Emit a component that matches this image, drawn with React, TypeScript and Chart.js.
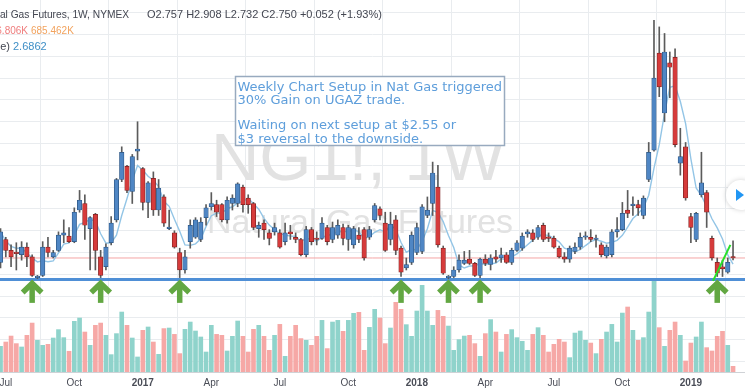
import React, { useEffect, useRef } from 'react';
import { Chart, registerables } from 'chart.js';

Chart.register(...registerables);

// ---- Weekly NG1! candles (index 0 = first visible week, mid 2016) ----
const opens = [
  2.71, 2.92, 2.82, 2.80, 2.78, 2.85, 2.76, 2.57, 2.59, 2.85,
  2.76, 2.82, 2.96, 2.95, 2.90, 3.19, 3.25, 3.02, 3.15, 2.76,
  2.67, 2.89, 3.10, 3.47, 3.59, 3.36, 3.73, 3.57, 3.26, 3.48,
  3.19, 3.31, 3.02, 2.98, 2.80, 2.64, 2.90, 2.94, 2.92, 3.12,
  3.22, 3.24, 3.24, 3.10, 3.25, 3.25, 3.40, 3.30, 3.25, 3.02,
  3.07, 2.98, 2.99, 2.98, 2.90, 2.99, 2.94, 2.92, 2.78, 3.01,
  2.93, 2.93, 3.03, 2.92, 2.96, 3.03, 2.92, 2.87, 2.96, 3.01,
  2.94, 3.10, 3.20, 3.07, 2.92, 3.10, 2.84, 2.66, 2.71, 2.80,
  2.81, 3.14, 3.25, 3.40, 2.84, 2.57, 2.58, 2.64, 2.70, 2.74,
  2.70, 2.59, 2.74, 2.69, 2.76, 2.75, 2.78, 2.71, 2.82, 2.84,
  2.97, 2.98, 2.94, 3.05, 2.94, 2.93, 2.84, 2.76, 2.74, 2.81,
  2.85, 2.94, 2.94, 2.92, 2.87, 2.77, 2.78, 2.99, 3.01, 3.19,
  3.23, 3.24, 3.14, 3.47, 3.74, 4.63, 4.08, 4.54, 4.59, 3.62,
  3.77, 3.13, 2.92, 3.33, 3.35, 2.93, 2.71, 2.67, 2.62, 2.757,
];
const highs = [
  3.02, 2.94, 2.87, 2.89, 2.90, 2.89, 2.78, 2.59, 2.90, 2.94,
  2.82, 2.99, 3.10, 3.03, 3.21, 3.37, 3.33, 3.13, 3.16, 2.82,
  2.88, 3.13, 3.48, 3.77, 3.60, 3.70, 4.00, 3.58, 3.45, 3.54,
  3.47, 3.33, 3.19, 3.00, 2.84, 2.82, 3.10, 3.12, 3.12, 3.24,
  3.35, 3.28, 3.25, 3.31, 3.33, 3.44, 3.42, 3.33, 3.26, 3.08,
  3.10, 3.01, 3.07, 3.01, 3.07, 3.05, 2.98, 2.93, 3.04, 3.03,
  2.99, 3.12, 3.05, 3.08, 3.10, 3.06, 3.05, 3.04, 3.03, 3.03,
  3.04, 3.25, 3.22, 3.17, 3.17, 3.14, 2.86, 2.75, 2.99, 3.07,
  3.24, 3.31, 3.63, 3.60, 2.86, 2.59, 2.67, 2.78, 2.81, 2.82,
  2.71, 2.75, 2.78, 2.78, 2.82, 2.84, 2.80, 2.84, 2.91, 2.98,
  3.01, 3.01, 3.05, 3.07, 2.98, 2.95, 2.86, 2.80, 2.86, 2.89,
  2.98, 2.99, 3.01, 2.96, 2.89, 2.87, 3.01, 3.12, 3.26, 3.37,
  3.31, 3.28, 3.32, 3.81, 4.93, 4.87, 4.81, 4.64, 4.67, 3.94,
  3.81, 3.16, 3.17, 3.72, 3.37, 2.95, 2.75, 2.73, 2.75, 2.908,
];
const lows = [
  2.66, 2.76, 2.67, 2.64, 2.73, 2.67, 2.58, 2.56, 2.58, 2.76,
  2.75, 2.81, 2.89, 2.89, 2.89, 3.17, 2.92, 2.64, 2.64, 2.57,
  2.64, 2.87, 3.08, 3.45, 3.35, 3.25, 3.65, 3.19, 3.12, 3.14,
  3.14, 3.04, 3.01, 2.84, 2.57, 2.61, 2.84, 2.93, 2.90, 3.05,
  3.19, 3.13, 3.08, 3.07, 3.19, 3.22, 3.17, 3.16, 3.01, 2.94,
  2.92, 2.87, 2.96, 2.84, 2.87, 2.92, 2.89, 2.77, 2.76, 2.87,
  2.87, 2.92, 2.87, 2.89, 2.93, 2.87, 2.82, 2.84, 2.89, 2.73,
  2.92, 3.08, 3.10, 2.81, 2.87, 2.78, 2.58, 2.64, 2.69, 2.78,
  2.79, 3.12, 3.14, 2.85, 2.60, 2.56, 2.57, 2.62, 2.69, 2.69,
  2.58, 2.57, 2.68, 2.64, 2.71, 2.71, 2.70, 2.69, 2.81, 2.82,
  2.94, 2.90, 2.92, 2.90, 2.90, 2.84, 2.75, 2.71, 2.71, 2.79,
  2.83, 2.92, 2.90, 2.85, 2.76, 2.75, 2.76, 2.94, 3.00, 3.12,
  3.14, 3.14, 3.11, 3.45, 3.73, 4.23, 4.00, 4.22, 3.77, 3.51,
  3.28, 2.89, 2.90, 3.31, 3.03, 2.73, 2.58, 2.58, 2.61, 2.732,
];
const closes = [
  2.99, 2.82, 2.76, 2.79, 2.85, 2.76, 2.59, 2.58, 2.85, 2.80,
  2.80, 2.96, 2.98, 2.90, 3.17, 3.28, 3.05, 3.12, 2.82, 2.59,
  2.85, 3.07, 3.47, 3.72, 3.37, 3.68, 3.75, 3.26, 3.44, 3.19,
  3.39, 3.07, 3.03, 2.85, 2.64, 2.76, 3.05, 3.10, 3.08, 3.21,
  3.25, 3.17, 3.10, 3.28, 3.30, 3.43, 3.24, 3.24, 3.03, 3.05,
  3.01, 2.93, 3.03, 2.85, 2.98, 2.97, 2.92, 2.78, 3.01, 2.90,
  2.92, 3.07, 2.90, 3.03, 3.05, 2.93, 3.03, 3.02, 2.92, 2.75,
  3.01, 3.23, 3.14, 2.82, 3.06, 2.82, 2.62, 2.69, 2.96, 3.03,
  3.22, 3.19, 3.53, 2.87, 2.61, 2.58, 2.64, 2.73, 2.73, 2.70,
  2.59, 2.74, 2.70, 2.75, 2.74, 2.78, 2.71, 2.82, 2.89, 2.95,
  2.99, 2.92, 3.03, 2.92, 2.93, 2.85, 2.76, 2.74, 2.84, 2.85,
  2.94, 2.95, 2.92, 2.93, 2.78, 2.85, 2.99, 3.01, 3.16, 3.16,
  3.24, 3.21, 3.30, 3.72, 4.40, 4.32, 4.64, 4.50, 3.79, 3.68,
  3.30, 3.03, 3.16, 3.44, 3.17, 2.75, 2.61, 2.65, 2.71, 2.750,
];
// weekly volume (thousand contracts)
const volumes = [
  352, 411, 493, 389, 343, 503, 671, 434, 366, 379,
  466, 581, 471, 284, 695, 740, 548, 366, 640, 671,
  503, 238, 526, 822, 640, 466, 206, 571, 617, 411,
  242, 595, 603, 516, 252, 585, 685, 562, 480, 274,
  640, 516, 503, 288, 489, 699, 489, 274, 585, 640,
  489, 297, 503, 653, 215, 489, 640, 458, 434, 366,
  489, 708, 321, 685, 708, 558, 708, 804, 818, 297,
  612, 859, 740, 389, 603, 955, 859, 649, 489, 836,
  1188, 836, 640, 845, 763, 630, 297, 444, 493, 503,
  389, 215, 526, 718, 548, 274, 516, 581, 471, 421,
  297, 516, 608, 503, 274, 379, 448, 411, 197, 534,
  562, 434, 397, 252, 448, 548, 653, 411, 808, 891,
  571, 434, 471, 822, 1256, 608, 352, 571, 685, 503,
  151, 397, 480, 685, 334, 288, 489, 558, 366, 78,
];

// time-axis labels (week index where each month/year starts)
const tickIndex = [1, 14, 27, 40, 53, 66, 79, 92, 105, 118, 131];
const tickLabels = ['Jul', 'Oct', '2017', 'Apr', 'Jul', 'Oct', '2018', 'Apr', 'Jul', 'Oct', '2019'];

// annotations
const arrowIndex = [6, 19, 34, 76, 85, 91, 136];
const arrowLevel = 2.54;
const supportLevel = 2.553;
const lastPrice = 2.75;
const levelSpan = [-2, 143];
const trendIdx = [135.2, 138.5];
const trendPrice = [2.54, 2.87];
const maPeriod = 5;

const noteLines = [
  'Weekly Chart Setup in Nat Gas triggered',
  '30% Gain on UGAZ trade.',
  '',
  'Waiting on next setup at $2.55 or',
  '$3 reversal to the downside.',
];

// view ranges
const X_MIN = -0.1;
const X_MAX = 141.27;
const Y_MIN = 1.704;
const Y_MAX = 5.117;
const VOL_MAX = 5100;

const SANS = "'Liberation Sans', Arial, sans-serif";
const DEJAVU = "'DejaVu Sans', Verdana, sans-serif";

export default function App() {
  const ref = useRef<HTMLCanvasElement>(null);

  useEffect(() => {
    document.body.style.margin = '0';
    const canvas = ref.current!;
    const idx = closes.map((_, i) => i);
    const up = closes.map((c, i) => c >= opens[i]);
    const ma = closes.map((_, i) => {
      const s = Math.max(0, i - maPeriod + 1);
      const w = closes.slice(s, i + 1);
      return w.reduce((a, b) => a + b, 0) / w.length;
    });

    const overlay = {
      id: 'overlay',
      beforeDatasetsDraw(chart: any) {
        const { ctx } = chart;
        ctx.save();
        ctx.fillStyle = '#e2e2e2';
        ctx.textAlign = 'center';
        ctx.textBaseline = 'alphabetic';
        ctx.font = `67px ${SANS}`;
        ctx.fillText('NG1!, 1W', 358, 180);
        ctx.font = `34px ${SANS}`;
        ctx.fillText('Natural Gas Futures', 360, 233);
        ctx.restore();
      },
      afterDatasetsDraw(chart: any) {
        const { ctx, scales } = chart;
        ctx.save();
        ctx.strokeStyle = '#62a742';
        ctx.lineWidth = 5.5;
        ctx.lineJoin = 'miter';
        ctx.lineCap = 'butt';
        const tip = scales.y.getPixelForValue(arrowLevel);
        arrowIndex.forEach((i) => {
          const x = scales.x.getPixelForValue(i);
          ctx.beginPath();
          ctx.moveTo(x, tip + 4);
          ctx.lineTo(x, tip + 22);
          ctx.stroke();
          ctx.beginPath();
          ctx.moveTo(x - 9.5, tip + 11.5);
          ctx.lineTo(x, tip + 2.5);
          ctx.lineTo(x + 9.5, tip + 11.5);
          ctx.stroke();
        });
        ctx.restore();
      },
      afterDraw(chart: any) {
        const { ctx } = chart;
        ctx.save();
        // note box
        ctx.fillStyle = '#ffffff';
        ctx.fillRect(235, 76, 270, 70);
        ctx.strokeStyle = '#98aabf';
        ctx.lineWidth = 1.5;
        ctx.strokeRect(235.5, 76.5, 269, 69);
        ctx.fillStyle = '#5e9edb';
        ctx.font = `13px ${DEJAVU}`;
        ctx.textAlign = 'left';
        ctx.textBaseline = 'alphabetic';
        const baselines = [90.5, 104, 116, 128.5, 142.5];
        noteLines.forEach((t, i) => { if (t) ctx.fillText(t, 237.5, baselines[i]); });

        // legend header (left part is cut off by the screenshot edge)
        ctx.textAlign = 'right';
        ctx.fillStyle = '#434651';
        ctx.font = `10.2px ${SANS}`;
        ctx.fillText('Natural Gas Futures, 1W, NYMEX', 129, 18);
        ctx.textAlign = 'left';
        ctx.font = `11px ${SANS}`;
        ctx.fillText('O2.757 H2.908 L2.732 C2.750 +0.052 (+1.93%)', 147, 18);
        ctx.font = `10px ${SANS}`;
        ctx.textAlign = 'right';
        ctx.fillStyle = '#ef7d7d';
        ctx.fillText('136.806K', 28, 34);
        ctx.textAlign = 'left';
        ctx.fillStyle = '#f2a35e';
        ctx.fillText('685.462K', 31, 34);
        ctx.font = `11px ${SANS}`;
        ctx.fillStyle = '#434651';
        ctx.textAlign = 'right';
        ctx.fillText('MA (5, close)', 10, 50);
        ctx.textAlign = 'left';
        ctx.fillStyle = '#3f8fc6';
        ctx.fillText('2.6862', 13, 50);

        // scroll button
        ctx.shadowColor = 'rgba(0,0,0,0.18)';
        ctx.shadowBlur = 5;
        ctx.fillStyle = '#ffffff';
        ctx.beginPath();
        ctx.arc(741, 195, 15, 0, Math.PI * 2);
        ctx.fill();
        ctx.shadowBlur = 0;
        ctx.shadowColor = 'transparent';
        ctx.fillStyle = '#2196f3';
        ctx.beginPath();
        ctx.moveTo(736, 189);
        ctx.lineTo(736, 201);
        ctx.lineTo(744, 195);
        ctx.closePath();
        ctx.fill();
        ctx.restore();
      },
    };

    const chart = new Chart(canvas, {
      type: 'bar',
      data: {
        datasets: [
          {
            type: 'line', label: 'trend',
            data: trendIdx.map((x, i) => ({ x, y: trendPrice[i] })),
            borderColor: '#27e027', borderWidth: 2, pointRadius: 0, yAxisID: 'y', order: 0,
          } as any,
          {
            type: 'bar', label: 'body',
            data: idx.map((i) => ({ x: i, y: [opens[i], closes[i]] })),
            backgroundColor: up.map((u) => (u ? '#4f86c4' : '#d63b3b')),
            borderColor: up.map((u) => (u ? '#2c5480' : '#7e2020')),
            borderWidth: 0.7, borderSkipped: false, barThickness: 4.5, minBarLength: 1.5,
            grouped: false, yAxisID: 'y', order: 1,
          } as any,
          {
            type: 'bar', label: 'wick',
            data: idx.map((i) => ({ x: i, y: [lows[i], highs[i]] })),
            backgroundColor: '#5b5b5b', barThickness: 1, grouped: false, yAxisID: 'y', order: 2,
          } as any,
          {
            type: 'line', label: 'MA',
            data: idx.map((i) => ({ x: i, y: ma[i] })),
            borderColor: '#93c5e6', borderWidth: 1.4, pointRadius: 0, tension: 0, yAxisID: 'y', order: 3,
          } as any,
          {
            type: 'line', label: 'support',
            data: levelSpan.map((x) => ({ x, y: supportLevel })),
            borderColor: '#4f8fd6', borderWidth: 3, pointRadius: 0, yAxisID: 'y', order: 4,
          } as any,
          {
            type: 'line', label: 'last',
            data: levelSpan.map((x) => ({ x, y: lastPrice })),
            borderColor: '#f4a5a5', borderWidth: 1, pointRadius: 0, yAxisID: 'y', order: 5,
          } as any,
          {
            type: 'bar', label: 'volume',
            data: idx.map((i) => ({ x: i, y: volumes[i] })),
            backgroundColor: up.map((u) => (u ? '#8fd3cb' : '#f6a8a6')),
            barThickness: 4, grouped: false, yAxisID: 'yv', order: 6,
          } as any,
        ],
      },
      options: {
        animation: false,
        responsive: false,
        maintainAspectRatio: false,
        events: [],
        layout: { padding: 0, autoPadding: false } as any,
        plugins: { legend: { display: false }, tooltip: { enabled: false } },
        scales: {
          x: {
            type: 'linear', min: X_MIN, max: X_MAX, offset: false,
            grid: { color: '#e9ecef', drawTicks: false },
            border: { display: true, color: '#cfd2d6' },
            afterBuildTicks: (s: any) => { s.ticks = tickIndex.map((v) => ({ value: v })); },
            afterFit: (s: any) => { s.height = 18; s.paddingLeft = 0; s.paddingRight = 0; },
            ticks: {
              autoSkip: false, maxRotation: 0, padding: 5, color: '#4a4d57',
              font: (c: any) => {
                const k = tickIndex.indexOf(c.tick ? c.tick.value : -1);
                const lbl = k >= 0 ? tickLabels[k] : '';
                return { family: SANS, size: 10, weight: /^\d{4}$/.test(lbl) ? 'bold' : 'normal' };
              },
              callback: (v: any) => { const k = tickIndex.indexOf(v); return k >= 0 ? tickLabels[k] : ''; },
            },
          } as any,
          y: {
            type: 'linear', position: 'right', min: Y_MIN, max: Y_MAX,
            grid: { color: '#e9ecef', drawTicks: false },
            border: { display: false },
            ticks: { display: false, stepSize: 0.2, includeBounds: false },
            afterFit: (s: any) => { s.width = 0; },
          } as any,
          yv: {
            type: 'linear', display: false, min: 0, max: VOL_MAX,
          } as any,
        },
      },
      plugins: [overlay],
    });
    return () => chart.destroy();
  }, []);

  return (
    <div style={{ width: 745, height: 390 }}>
      <canvas ref={ref} width={745} height={390} style={{ display: 'block' }} />
    </div>
  );
}
